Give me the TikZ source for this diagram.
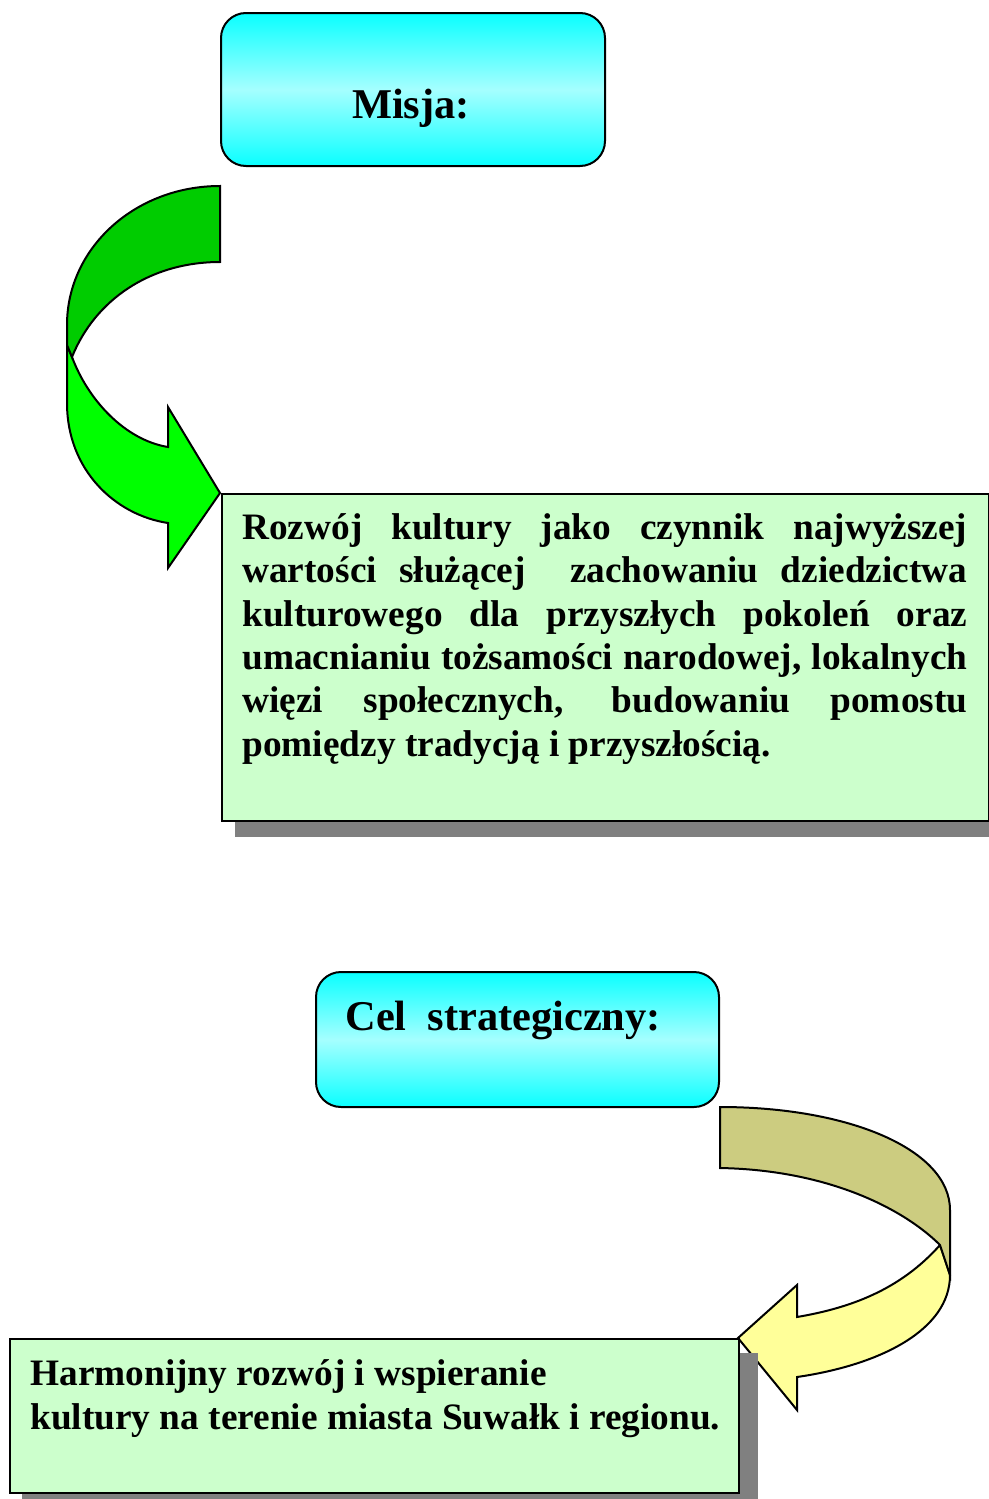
\documentclass[tikz,border=0pt]{standalone}
\usepackage{fontspec}
\setmainfont{Liberation Serif}
\definecolor{cyanA}{RGB}{10,255,255}
\definecolor{cyanB}{RGB}{165,255,255}
\definecolor{darkgreen}{RGB}{0,204,0}
\definecolor{lightgreen}{RGB}{0,255,0}
\definecolor{khaki}{RGB}{204,204,128}
\definecolor{paleyellow}{RGB}{255,255,153}
\definecolor{boxgreen}{RGB}{204,255,204}
\definecolor{shadowgray}{RGB}{128,128,128}
\newcommand{\titlefont}{\fontsize{21.2pt}{24pt}\selectfont\bfseries}
\newcommand{\bodyfont}{\fontsize{18.65pt}{21.7pt}\selectfont\bfseries}
\begin{document}
\begin{tikzpicture}[x=0.5pt,y=-0.5pt,
  cyanbox/.style={draw=black, line width=1pt, rounded corners=12.5pt,
    top color=cyanA, bottom color=cyanA, middle color=cyanB, inner sep=0pt},
  greenbox/.style={draw=black, line width=1pt, fill=boxgreen, inner sep=0pt},
  shadowbox/.style={fill=shadowgray, draw=none},
  ribbon/.style={draw=black, line width=1pt, line join=miter},
  bodytext/.style={font=\bodyfont, inner sep=0pt, align=left},
  titletext/.style={font=\titlefont, inner sep=0pt}]
\useasboundingbox (0,0) rectangle (989,1499);

% ---------- Misja ----------
\node[cyanbox, minimum width=192pt, minimum height=76.5pt] (misja) at (413,89.5) {};
\node[titletext, anchor=base] (misjatxt) at (411,118) {Misja:};

% green ribbon arrow
\path[ribbon, fill=lightgreen] (67,345) -- (67,403)
  .. controls (67,470) and (115,515) .. (168,523) -- (168,568) -- (220,493)
  -- (168,407) -- (168,447) .. controls (125,440) and (88,400) .. (72,357) -- cycle;
\path[ribbon, fill=darkgreen] (220,186) .. controls (135,186) and (67,248) .. (67,325)
  -- (67,345) -- (72,357) .. controls (95,300) and (150,262) .. (220,262) -- cycle;

% mission box
\path[shadowbox] (235,510) rectangle (989,837);
\node[greenbox, anchor=north west, minimum width=383.5pt, minimum height=163.5pt] (misjabox) at (221,493) {};
\node[bodytext, anchor=north west] (misjatext) at (242,508.6) {%
\strut\makebox[362.5pt][s]{Rozwój kultury jako czynnik najwyższej}\\
\makebox[362.5pt][s]{wartości służącej\ \ zachowaniu dziedzictwa}\\
\makebox[362.5pt][s]{kulturowego dla przyszłych pokoleń oraz}\\
\makebox[362.5pt][s]{umacnianiu tożsamości narodowej, lokalnych}\\
\makebox[362.5pt][s]{więzi społecznych, budowaniu pomostu}\\
pomiędzy tradycją i przyszłością.};

% ---------- Cel strategiczny ----------
\node[cyanbox, minimum width=201.5pt, minimum height=67.5pt] (cel) at (517.5,1039.5) {};
\node[titletext, anchor=base west] (celtxt) at (345,1030) {Cel\hspace{10.5pt}strategiczny:};

% yellow ribbon arrow
\path[ribbon, fill=paleyellow] (940,1245) .. controls (900,1290) and (850,1308) .. (797,1317)
  -- (797,1285) -- (738,1338) -- (797,1410) -- (797,1377)
  .. controls (880,1365) and (950,1330) .. (950,1275) -- cycle;
\path[ribbon, fill=khaki] (720,1107) .. controls (850,1107) and (950,1150) .. (950,1210)
  -- (950,1275) -- (940,1245) .. controls (905,1210) and (830,1170) .. (720,1168) -- cycle;

% goal box
\path[shadowbox] (22,1353) rectangle (758,1499);
\node[greenbox, anchor=north west, minimum width=364.5pt, minimum height=77pt] (celbox) at (9,1338) {};
\node[bodytext, anchor=north west] (celtext) at (30,1355) {%
\strut Harmonijny rozwój i wspieranie\\
kultury na terenie miasta Suwałk i regionu.};
\end{tikzpicture}
\end{document}
